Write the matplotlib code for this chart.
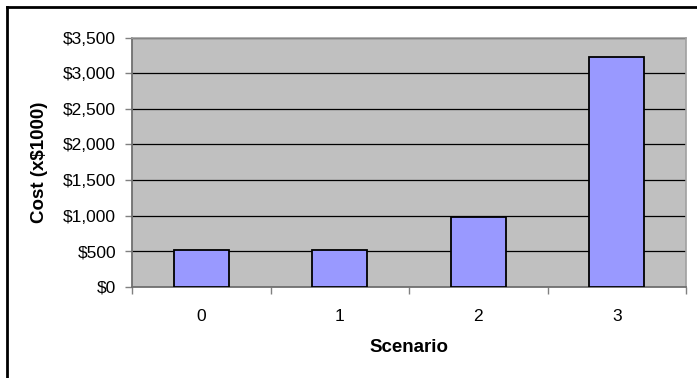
import matplotlib
matplotlib.use("Agg")
import matplotlib.pyplot as plt
from matplotlib.lines import Line2D
from matplotlib.ticker import FuncFormatter, FixedLocator

plt.rcParams['font.family'] = ['Liberation Sans', 'DejaVu Sans']

scenarios = ["0", "1", "2", "3"]
costs = [519, 519, 978, 3233]
y_ticks = [0, 500, 1000, 1500, 2000, 2500, 3000, 3500]

fig = plt.figure(figsize=(6.97, 3.78), dpi=100)
W, H = 697, 378
ax = fig.add_axes([132 / W, 1 - 287 / H, (686 - 132) / W, (287 - 37.5) / H])

ax.set_facecolor('#C0C0C0')
x = list(range(len(scenarios)))
ax.bar(x, costs, width=0.4, color='#9999FF', edgecolor='black', linewidth=1.3, zorder=3)

ax.set_xlim(-0.5, len(scenarios) - 0.5)
ax.set_ylim(0, 3500)
ax.set_yticks(y_ticks)
ax.yaxis.set_major_formatter(FuncFormatter(lambda v, p: f"${int(v):,}"))
ax.yaxis.grid(True, color='black', linewidth=0.9, zorder=1)
ax.set_axisbelow(True)

ax.set_xticks(x)
ax.set_xticklabels(scenarios)
ax.xaxis.set_minor_locator(FixedLocator([i - 0.5 for i in range(len(scenarios) + 1)]))
ax.tick_params(axis='x', which='major', length=0, pad=16, labelsize=12.5)
ax.tick_params(axis='x', which='minor', length=5, width=1, color='#808080', direction='out')
ax.tick_params(axis='y', length=5, width=1, color='#808080', direction='out', labelsize=12.5, pad=6.5)

for side in ['top', 'right']:
    ax.spines[side].set_color('#A0A0A0')
    ax.spines[side].set_linewidth(1.2)
for side in ['left', 'bottom']:
    ax.spines[side].set_color('#707070')
    ax.spines[side].set_linewidth(1.3)

ax.set_xlabel("Scenario", fontweight='bold', fontsize=13.5)
ax.set_ylabel("Cost (x$1000)", fontweight='bold', fontsize=13.5)
ax.xaxis.set_label_coords(0.5, (287 - 348) / 249.5)
ax.yaxis.set_label_coords((40 - 132) / 554, 0.5)
ax.xaxis.label.set_va('center')
ax.yaxis.label.set_va('center')

# chart frame (left and top edges)
fig.add_artist(Line2D([6.5 / W, 6.5 / W], [0, 1 - 6.5 / H], transform=fig.transFigure,
                      color='black', linewidth=2))
fig.add_artist(Line2D([6.5 / W, 1], [1 - 6.5 / H, 1 - 6.5 / H], transform=fig.transFigure,
                      color='black', linewidth=2))

fig.savefig("out.png", dpi=100, facecolor='white')
